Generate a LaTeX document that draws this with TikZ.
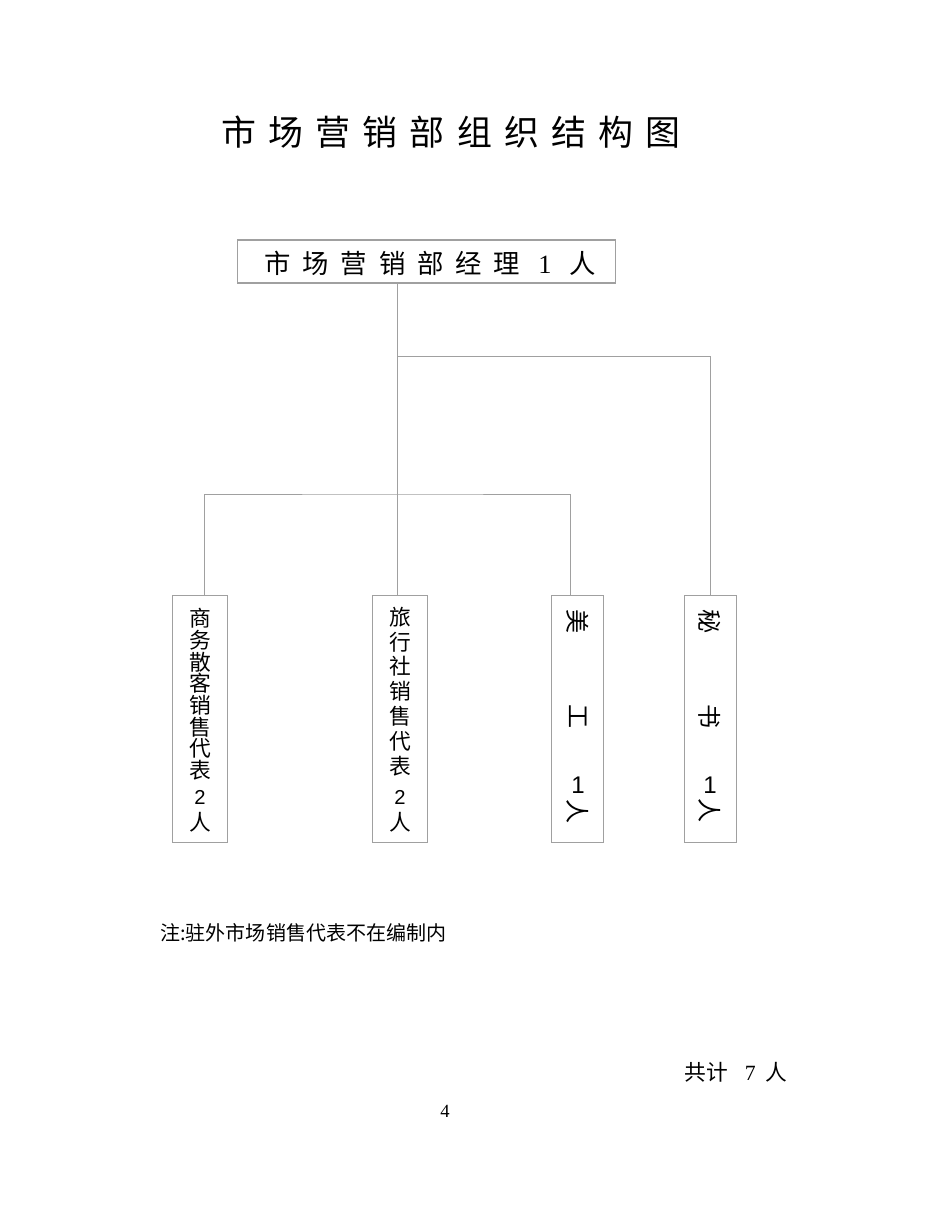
\documentclass[tikz,border=0pt]{standalone}
\usepackage{fontspec}
\setmainfont{Liberation Serif}
\newfontfamily\cjk{Noto Sans CJK SC}
\newfontfamily\cjktitle[LetterSpace=35]{Noto Sans CJK SC}
\newfontfamily\cjkmgr[LetterSpace=45]{Noto Sans CJK SC}
\newfontfamily\arialf{Liberation Sans}
\newdimen\pxu \pxu=0.6442pt
\definecolor{lineg}{HTML}{A0A0A0}
\tikzset{
 conn/.style={draw=lineg, line width=0.65pt},
 boxst/.style={draw=lineg, line width=0.65pt, inner sep=0pt},
 vbox/.style={boxst, minimum height=158.5pt},
 vch/.style={inner sep=0pt, font=\cjk\fontsize{14pt}{14pt}\selectfont},
 rch/.style={inner sep=0pt, rotate=-90, font=\cjk\fontsize{15.5pt}{15.5pt}\selectfont},
 dig/.style={inner sep=0pt, font=\arialf\fontsize{13pt}{13pt}\selectfont},
 bigdig/.style={inner sep=0pt, font=\arialf\fontsize{15.5pt}{15.5pt}\selectfont},
}
\begin{document}
\begin{tikzpicture}[x=0.6442pt, y=-0.6442pt]
\useasboundingbox[fill=white] (0,0) rectangle (950,1230);

% title
\node[anchor=west, inner sep=0pt, font=\cjktitle\fontsize{22.5pt}{24pt}\selectfont] (title) at (221,132) {市场营销部组织结构图};

% manager box
\node[boxst, minimum width=242.9pt, minimum height=27.7pt] (mgr) at (426.5,261.5) {};
\node[anchor=west, inner sep=0pt, font=\cjkmgr\fontsize{17pt}{18pt}\selectfont] (mgrt) at (264,263) {市场营销部经理\hspace{18\pxu}{\rmfamily 1}\hspace{18\pxu}人};

% boxes
\node[vbox, minimum width=34.8pt] (b1) at (200,719) {};
\node[vbox, minimum width=34.8pt] (b2) at (400,719) {};
\node[vbox, minimum width=34.1pt] (b3) at (577.5,719) {};
\node[vbox, minimum width=34.1pt] (b4) at (710.5,719) {};

% connectors
\coordinate (j0) at ([xshift=-1.3pt]b2.north);
\draw[conn] (mgr.south -| j0) -- (j0);
\coordinate (h1) at (398,356);
\draw[conn] (h1) -| ([xshift=0.3pt]b4.north);
\coordinate (h2) at (398,494);
\draw[conn] ([xshift=3.2pt]b1.north) |- (h2) -| ([xshift=-4.2pt]b3.north);

% box 1 text
\foreach \c [count=\i] in {商,务,散,客,销,售,代,表}
  \node[vch] (p\i) at (200,{618.5+21.7*(\i-1)}) {\c};
\node[dig] (p9) at (200,797) {2};
\node[vch] (p10) at (200,822) {人};

% box 2 text
\foreach \c [count=\i] in {旅,行,社,销,售,代,表}
  \node[vch] (q\i) at (400,{617+24.8*(\i-1)}) {\c};
\node[dig] (q8) at (400,797) {2};
\node[vch] (q9) at (400,822) {人};

% box 3 text
\node[rch] (r1) at (578,622) {美};
\node[rch] (r2) at (578,717) {工};
\node[bigdig] (r3) at (578,785) {1};
\node[rch] (r4) at (578,812) {人};

% box 4 text
\node[rch] (s1) at (710,622) {秘};
\node[rch] (s2) at (710,717) {书};
\node[bigdig] (s3) at (710,785) {1};
\node[rch] (s4) at (710,811) {人};

% note
\node[anchor=west, inner sep=0pt, font=\cjk\fontsize{12.9pt}{14pt}\selectfont] (note) at (160,933) {注:驻外市场销售代表不在编制内};

% total
\node[anchor=west, inner sep=0pt, font=\cjk\fontsize{14pt}{16pt}\selectfont] (total) at (684,1072) {共计\hspace{17\pxu}{\rmfamily 7}\hspace{10\pxu}人};

% page number
\node[inner sep=0pt, font=\rmfamily\fontsize{12pt}{14pt}\selectfont] (pg) at (445,1111) {4};
\end{tikzpicture}
\end{document}
